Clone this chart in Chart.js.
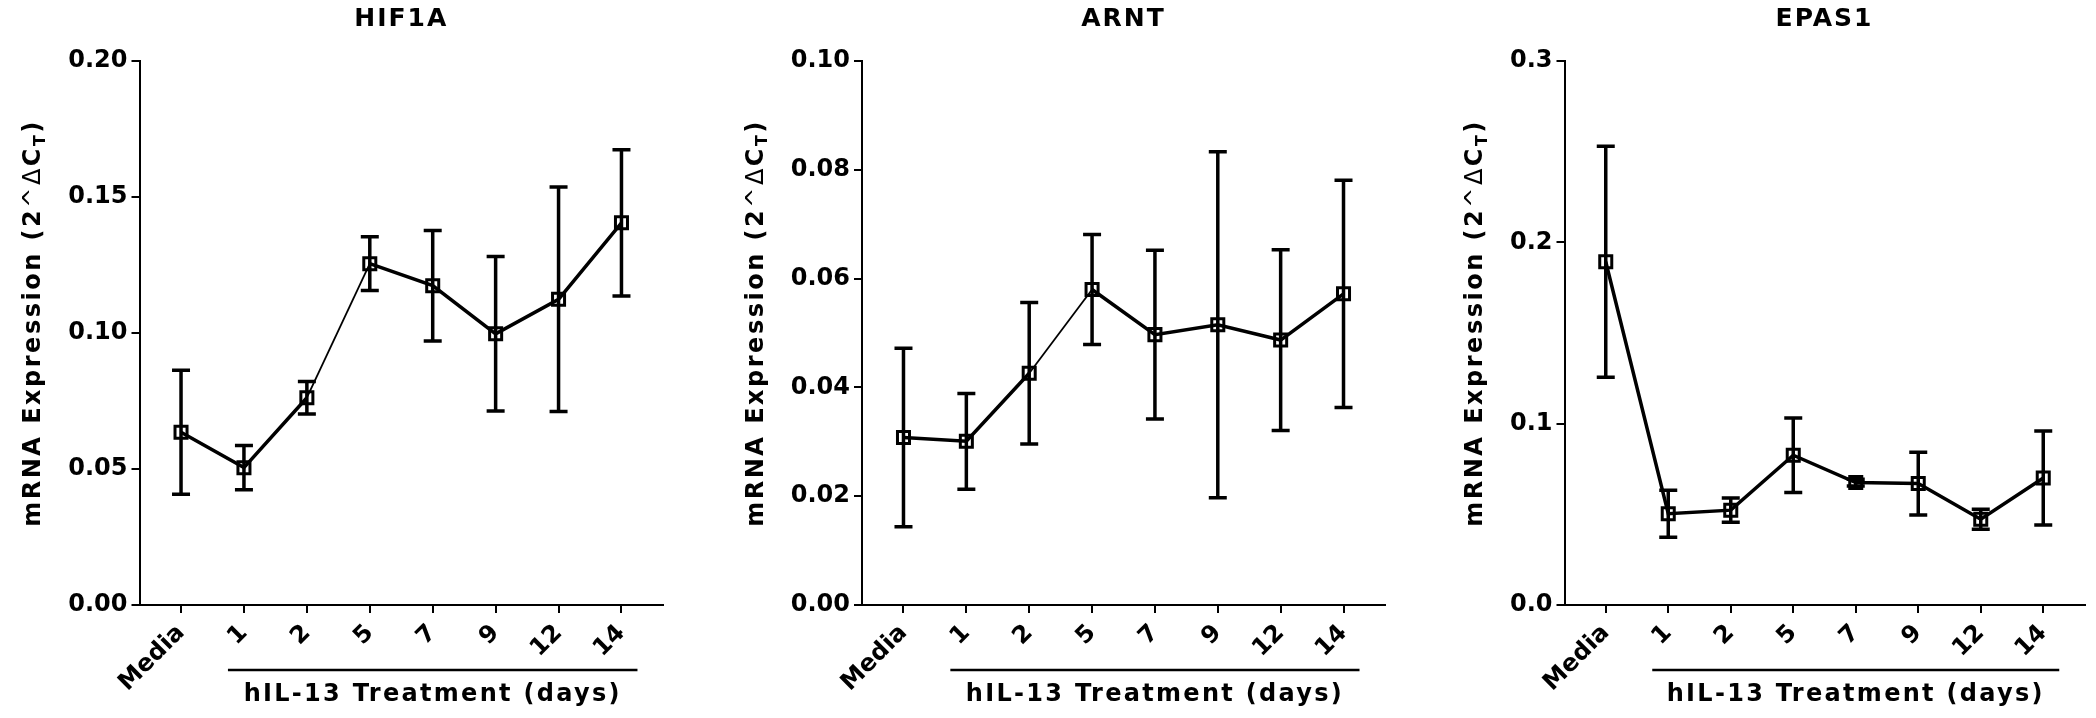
<!doctype html>
<html lang="en">
<head>
<meta charset="UTF-8" />
<title>mRNA expression after hIL-13 treatment</title>
<script src="https://cdn.jsdelivr.net/npm/chart.js"></script>
<style>
    html, body { margin: 0; padding: 0; background: #fff; }
    body { width: 2096px; height: 718px; position: relative; overflow: hidden; }
    canvas { position: absolute; top: 0; display: block; }
</style>
</head>
<body>
<canvas id="c1" width="700" height="718" style="left:0px"></canvas>
<canvas id="c2" width="700" height="718" style="left:700px"></canvas>
<canvas id="c3" width="696" height="718" style="left:1400px"></canvas>

<script>
// x categories (same on all three panels)
const categories = ["Media", "1", "2", "5", "7", "9", "12", "14"];
const treatmentLabel = "hIL-13 Treatment (days)";
const yTitleMain = "mRNA Expression (2";

// HIF1A
const hif1aMean = [0.0635, 0.0505, 0.0762, 0.1255, 0.1174, 0.0997, 0.1124, 0.1405];
const hif1aErr = [0.0228, 0.0081, 0.0060, 0.0099, 0.0203, 0.0284, 0.0413, 0.0269];
const hif1aTicks = ["0.00", "0.05", "0.10", "0.15", "0.20"];

// ARNT
const arntMean = [0.0308, 0.0301, 0.0426, 0.0580, 0.0497, 0.0515, 0.0487, 0.0572];
const arntErr = [0.0164, 0.0088, 0.0130, 0.0101, 0.0155, 0.0318, 0.0166, 0.0209];
const arntTicks = ["0.00", "0.02", "0.04", "0.06", "0.08", "0.10"];

// EPAS1
const epas1Mean = [0.1893, 0.0503, 0.0523, 0.0826, 0.0675, 0.0670, 0.0473, 0.0700];
const epas1Err = [0.0637, 0.0130, 0.0067, 0.0205, 0.0019, 0.0173, 0.0055, 0.0259];
const epas1Ticks = ["0.0", "0.1", "0.2", "0.3"];

const FONT = "'DejaVu Sans', sans-serif";

const panels = [
    { id: "c1", title: "HIF1A", mean: hif1aMean, err: hif1aErr, ticks: hif1aTicks, axisW: 139.5, padR: 37, thinSeg: true },
    { id: "c2", title: "ARNT", mean: arntMean, err: arntErr, ticks: arntTicks, axisW: 162, padR: 15, thinSeg: true },
    { id: "c3", title: "EPAS1", mean: epas1Mean, err: epas1Err, ticks: epas1Ticks, axisW: 164.5, padR: 10, thinSeg: false }
];

function makeDecor(p) {
    return {
        id: "decor_" + p.id,
        beforeDatasetsDraw(chart) {
            // error bars, drawn under the line and markers
            const { ctx } = chart;
            const xs = chart.scales.x, ys = chart.scales.y;
            ctx.save();
            ctx.strokeStyle = "#000";
            ctx.lineWidth = 3.5;
            p.mean.forEach((m, i) => {
                const px = xs.getPixelForValue(i);
                const top = ys.getPixelForValue(m + p.err[i]);
                const bot = ys.getPixelForValue(m - p.err[i]);
                ctx.beginPath();
                ctx.moveTo(px, top); ctx.lineTo(px, bot);
                ctx.moveTo(px - 9, top); ctx.lineTo(px + 9, top);
                ctx.moveTo(px - 9, bot); ctx.lineTo(px + 9, bot);
                ctx.stroke();
            });
            ctx.restore();
        },
        afterDraw(chart) {
            const { ctx, chartArea } = chart;
            const xs = chart.scales.x;
            ctx.save();
            ctx.fillStyle = "#000";
            ctx.strokeStyle = "#000";

            // panel title
            ctx.font = "bold 25px " + FONT;
            ctx.letterSpacing = "2px";
            ctx.textAlign = "center";
            ctx.textBaseline = "middle";
            ctx.fillText(p.title, (chartArea.left + chartArea.right) / 2, 19);

            // bracket under the treatment days
            const x0 = xs.getPixelForValue(1), x1 = xs.getPixelForValue(categories.length - 1);
            ctx.lineWidth = 2.5;
            ctx.beginPath();
            ctx.moveTo(x0 - 16, 670);
            ctx.lineTo(x1 + 16, 670);
            ctx.stroke();
            ctx.font = "bold 24px " + FONT;
            ctx.letterSpacing = "2.3px";
            ctx.textBaseline = "alphabetic";
            ctx.fillText(treatmentLabel, (x0 + x1) / 2, 701);

            // y axis title with subscript
            ctx.font = "bold 24px " + FONT;
            ctx.letterSpacing = "0px";
            let labelW = 0;
            p.ticks.forEach(t => { labelW = Math.max(labelW, ctx.measureText(t).width); });
            const tx = chartArea.left - 12.5 - labelW - 34;
            const parts = [
                { t: yTitleMain, f: "bold 24px " + FONT, dy: 0 },
                { t: "^\u0394", f: "24px " + FONT, dy: 0 },
                { t: "C", f: "bold 24px " + FONT, dy: 0 },
                { t: "T", f: "bold 16px " + FONT, dy: 7 },
                { t: ")", f: "bold 24px " + FONT, dy: 0 }
            ];
            ctx.letterSpacing = "2.5px";
            let total = 0;
            parts.forEach(s => { ctx.font = s.f; s.w = ctx.measureText(s.t).width; total += s.w; });
            ctx.translate(tx, 323);
            ctx.rotate(-Math.PI / 2);
            ctx.textAlign = "left";
            ctx.textBaseline = "middle";
            let cx = -total / 2;
            parts.forEach(s => { ctx.font = s.f; ctx.fillText(s.t, cx, s.dy); cx += s.w; });
            ctx.restore();
        }
    };
}

const tickFont = { family: FONT, size: 24, weight: "bold" };

panels.forEach(p => {
    const ctx = document.getElementById(p.id).getContext("2d");
    new Chart(ctx, {
        type: "line",
        data: {
            datasets: [{
                data: p.mean.map((v, i) => ({ x: i, y: v })),
                borderColor: "#000",
                borderWidth: 3.5,
                tension: 0,
                pointStyle: "rect",
                pointRadius: 8.5,
                pointBorderWidth: 3,
                pointBorderColor: "#000",
                pointBackgroundColor: "rgba(0,0,0,0)",
                clip: false,
                segment: {
                    borderWidth: c => (p.thinSeg && c.p0DataIndex === 2 ? 1.8 : undefined)
                }
            }]
        },
        options: {
            responsive: false,
            animation: false,
            layout: { padding: { left: 0, right: p.padR, top: 61, bottom: 0 } },
            plugins: { legend: { display: false }, tooltip: { enabled: false }, title: { display: false } },
            scales: {
                x: {
                    type: "linear",
                    min: -0.66,
                    max: categories.length - 1 + 0.66,
                    afterBuildTicks: s => { s.ticks = categories.map((c, i) => ({ value: i })); },
                    afterFit: s => { s.height = 113; },
                    ticks: {
                        callback: v => categories[v],
                        autoSkip: false,
                        minRotation: 45,
                        maxRotation: 45,
                        color: "#000",
                        font: tickFont,
                        padding: 6
                    },
                    grid: { drawOnChartArea: false, drawTicks: true, tickLength: 8, color: "#000", lineWidth: 2 },
                    border: { display: true, color: "#000", width: 2 }
                },
                y: {
                    min: 0,
                    max: parseFloat(p.ticks[p.ticks.length - 1]),
                    afterBuildTicks: s => { s.ticks = p.ticks.map(t => ({ value: parseFloat(t) })); },
                    afterFit: s => { s.width = p.axisW; },
                    ticks: {
                        callback: (v, i) => p.ticks[i],
                        color: "#000",
                        font: tickFont,
                        padding: 4
                    },
                    grid: { drawOnChartArea: false, drawTicks: true, tickLength: 8, color: "#000", lineWidth: 2 },
                    border: { display: true, color: "#000", width: 2 }
                }
            }
        },
        plugins: [makeDecor(p)]
    });
});
</script>
</body>
</html>
